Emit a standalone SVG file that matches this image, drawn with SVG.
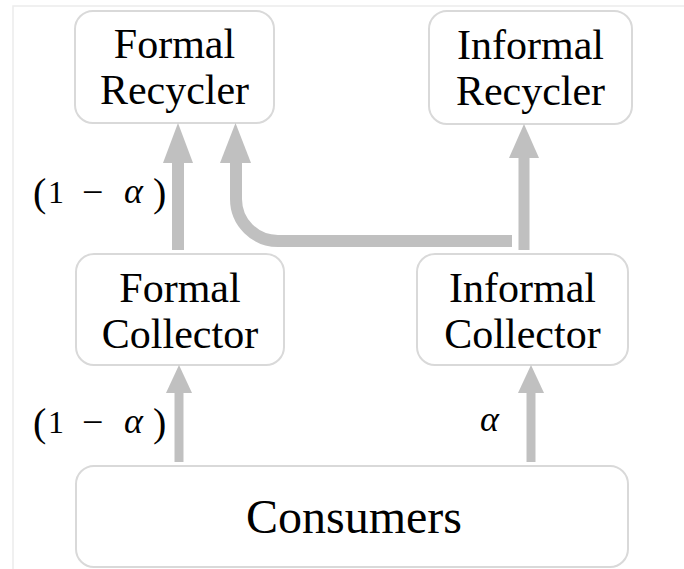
<svg xmlns="http://www.w3.org/2000/svg" width="684" height="569" viewBox="0 0 684 569">
  <style>
    .box { fill: #ffffff; stroke: #d9d9d9; stroke-width: 2; }
    .lbl { fill: #000000; text-anchor: middle; }
    .math { fill: #000000; }
    .shaft { fill: none; stroke: #c0c0c0; }
    .head { fill: #c0c0c0; }
  </style>

  <rect width="684" height="569" fill="#ffffff"/>
  <!-- faint frame -->
  <path d="M 13 569 V 6 H 684" fill="none" stroke="#ececec" stroke-width="1.5"/>

  <g id="formal-recycler" font-family="'Liberation Serif', 'DejaVu Serif', serif" font-size="42">
    <rect class="box" x="75" y="11" width="199" height="112" rx="18"/>
    <text class="lbl" x="174.5" y="58">Formal</text>
    <text class="lbl" x="174.5" y="104">Recycler</text>
  </g>
  <g id="informal-recycler" font-family="'Liberation Serif', 'DejaVu Serif', serif" font-size="42">
    <rect class="box" x="429" y="11" width="203" height="113" rx="18"/>
    <text class="lbl" x="530.5" y="59">Informal</text>
    <text class="lbl" x="530.5" y="105">Recycler</text>
  </g>
  <g id="formal-collector" font-family="'Liberation Serif', 'DejaVu Serif', serif" font-size="42">
    <rect class="box" x="76" y="254" width="208" height="111" rx="18"/>
    <text class="lbl" x="180" y="302">Formal</text>
    <text class="lbl" x="180" y="348">Collector</text>
  </g>
  <g id="informal-collector" font-family="'Liberation Serif', 'DejaVu Serif', serif" font-size="42">
    <rect class="box" x="417" y="254" width="211" height="111" rx="18"/>
    <text class="lbl" x="522.5" y="302">Informal</text>
    <text class="lbl" x="522.5" y="348">Collector</text>
  </g>
  <g id="consumers" font-family="'Liberation Serif', 'DejaVu Serif', serif" font-size="48">
    <rect class="box" x="76" y="466" width="552" height="101" rx="18"/>
    <text class="lbl" x="354" y="533">Consumers</text>
  </g>

  <g id="connectors">
    <!-- formal collector to formal recycler -->
    <line class="shaft" x1="178" y1="250" x2="178" y2="160" stroke-width="12"/>
    <polygon class="head" points="163,163 193,163 178,123"/>
    <!-- informal collector to formal recycler (bent) -->
    <path class="shaft" d="M 512 241 H 278 A 42 42 0 0 1 236 199 V 160" stroke-width="12"/>
    <polygon class="head" points="220,163 251,163 235.5,123"/>
    <!-- informal collector to informal recycler -->
    <line class="shaft" x1="524" y1="250" x2="524" y2="155" stroke-width="11"/>
    <polygon class="head" points="509,158 539,158 524,124"/>
    <!-- consumers to formal collector -->
    <line class="shaft" x1="179" y1="462" x2="179" y2="390" stroke-width="9"/>
    <polygon class="head" points="166,393 192,393 179,365"/>
    <!-- consumers to informal collector -->
    <line class="shaft" x1="531" y1="462" x2="531" y2="390" stroke-width="9"/>
    <polygon class="head" points="518,393 544,393 531,365"/>
  </g>

  <g id="labels" font-family="'Liberation Serif', 'DejaVu Serif', serif" font-size="32">
    <text class="math" y="206"><tspan x="33" font-size="40">(</tspan><tspan x="48" y="203">1</tspan><tspan x="82" font-size="38" y="205">−</tspan><tspan x="124" y="203" font-style="italic" font-size="36">α</tspan><tspan x="153" y="206" font-size="40">)</tspan></text>
    <text class="math" y="436"><tspan x="33" font-size="40">(</tspan><tspan x="48" y="433">1</tspan><tspan x="82" font-size="38" y="435">−</tspan><tspan x="124" y="433" font-style="italic" font-size="36">α</tspan><tspan x="153" y="436" font-size="40">)</tspan></text>
    <text class="math" y="431" x="480" font-style="italic" font-size="36">α</text>
  </g>
</svg>
